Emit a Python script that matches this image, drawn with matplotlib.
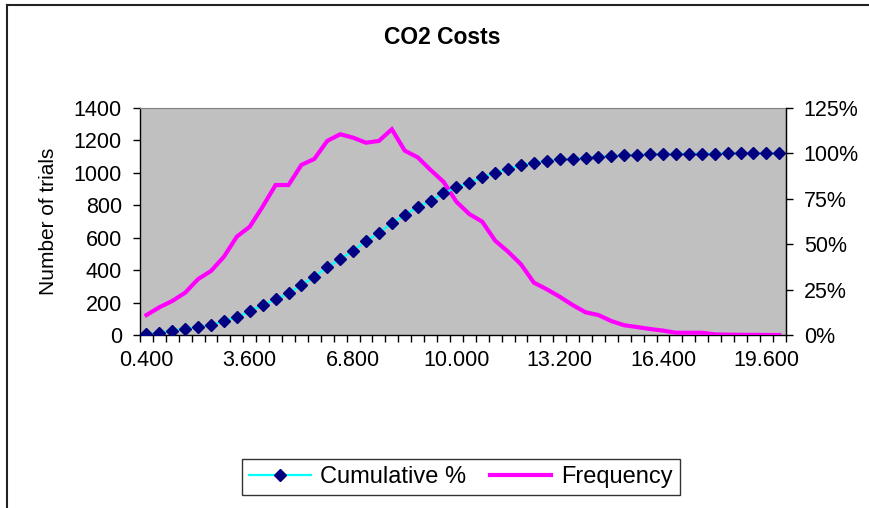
import matplotlib
matplotlib.use("Agg")
import matplotlib.pyplot as plt
from matplotlib.lines import Line2D
from matplotlib.ticker import FixedLocator, FuncFormatter

plt.rcParams['font.family'] = ['Liberation Sans', 'DejaVu Sans']

# Data
categories = [round(0.4 * (i + 1), 1) for i in range(50)]  # 0.4 .. 20.0
frequency = [123, 171, 210, 261, 345, 395, 483, 607, 668, 792,
             925, 925, 1049, 1086, 1197, 1238, 1217, 1186, 1197, 1269,
             1137, 1096, 1018, 945, 822, 746, 699, 582, 514, 436,
             323, 282, 236, 185, 140, 123, 86, 60, 49, 37,
             27, 14, 14, 14, 4, 2, 1, 1, 0, 0]
cumulative_pct = [0.5, 1.3, 2.4, 3.5, 4.4, 5.5, 7.7, 9.7, 13.2, 16.5,
                  19.6, 22.9, 27.5, 32.1, 37.3, 41.9, 46.3, 51.8, 56.2, 61.5,
                  66.1, 70.5, 73.8, 78.0, 81.3, 83.9, 86.8, 89.4, 91.4, 93.6,
                  94.9, 95.8, 96.7, 97.1, 97.7, 98.2, 98.7, 99.0, 99.3, 99.5,
                  99.6, 99.7, 99.8, 99.9, 99.9, 100, 100, 100, 100, 100]
left_ticks = [0, 200, 400, 600, 800, 1000, 1200, 1400]
right_ticks = [0, 25, 50, 75, 100, 125]
label_every = 8

W, H = 870, 508
fig = plt.figure(figsize=(W / 100, H / 100), dpi=100)
fig.patch.set_facecolor('white')

ax = fig.add_axes([140 / W, 1 - 335 / H, 645.7 / W, 227 / H])
ax.set_facecolor('#C0C0C0')
x = list(range(len(categories)))

freq_line, = ax.plot(x, frequency, color='#FF00FF', lw=3.0, solid_joinstyle='miter',
                     label='Frequency', zorder=3)
ax.set_xlim(-0.5, len(categories) - 0.5)
ax.set_ylim(0, 1400)
ax.yaxis.set_major_locator(FixedLocator(left_ticks))
ax.tick_params(axis='y', direction='out', length=5, width=1, labelsize=15.5, pad=8)
ax.set_ylabel('Number of trials', fontsize=15, labelpad=11)

# x-axis: ticks at category boundaries, labels every 8th category
ax.xaxis.set_major_locator(FixedLocator([i for i in x if i % label_every == 0]))
ax.xaxis.set_major_formatter(FuncFormatter(lambda v, p: f"{categories[int(round(v))]:.3f}"))
ax.tick_params(axis='x', which='major', length=0, labelsize=15.5, pad=11)
ax.xaxis.set_minor_locator(FixedLocator([i - 0.5 for i in range(len(categories) + 1)]))
ax.tick_params(axis='x', which='minor', direction='out', length=5, width=1)

for s in ['left', 'bottom', 'right']:
    ax.spines[s].set_color('black')
    ax.spines[s].set_linewidth(1)
ax.spines['top'].set_color('#808080')

ax2 = ax.twinx()
cum_line, = ax2.plot(x, cumulative_pct, color='#00FFFF', lw=1.6, marker='D',
                     markersize=6, markerfacecolor='#000080', markeredgecolor='#000080',
                     label='Cumulative %', zorder=4)
ax2.set_ylim(0, 125)
ax2.yaxis.set_major_locator(FixedLocator(right_ticks))
ax2.yaxis.set_major_formatter(FuncFormatter(lambda v, p: f"{int(v)}%"))
ax2.tick_params(axis='y', direction='out', length=5, width=1, labelsize=15.5, pad=8)
for s in ['left', 'bottom', 'top']:
    ax2.spines[s].set_visible(False)
ax2.spines['right'].set_color('black')

fig.text(442 / W, 1 - 37 / H, 'CO2 Costs', ha='center', va='center',
         fontsize=16.5, fontweight='bold')

leg = fig.legend(handles=[cum_line, freq_line], labels=['Cumulative %', 'Frequency'],
                 loc='center', bbox_to_anchor=(461 / W, 1 - 477 / H), ncol=2,
                 fontsize=17, frameon=True, fancybox=False, handlelength=2.6,
                 handletextpad=0.4, columnspacing=1.0, borderpad=0.3)
leg.get_frame().set_edgecolor('black')
leg.get_frame().set_linewidth(1)

# chart area border (top and left visible)
fig.add_artist(Line2D([7 / W, 1.0], [1 - 5 / H, 1 - 5 / H], transform=fig.transFigure,
                      color='#222222', lw=1.5))
fig.add_artist(Line2D([7 / W, 7 / W], [1 - 5 / H, 0.0], transform=fig.transFigure,
                      color='#222222', lw=1.5))

fig.savefig('out.png', dpi=100)
